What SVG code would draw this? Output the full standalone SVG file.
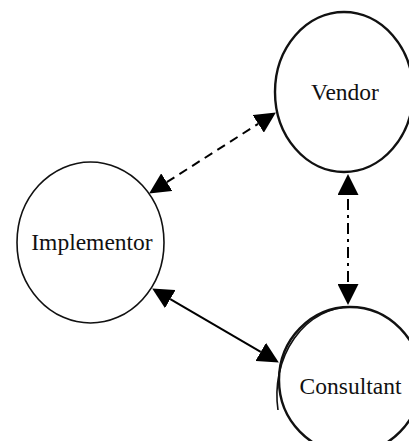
<svg xmlns="http://www.w3.org/2000/svg" width="409" height="441" viewBox="0 0 409 441">
<style>
.node{fill:#fff;stroke:#111;}
.lbl{font-family:"Liberation Serif","Times New Roman",serif;font-size:23.5px;fill:#111;text-anchor:middle;}
.conn{stroke:#000;stroke-width:2;fill:none;marker-start:url(#tri);marker-end:url(#tri);}
</style>
<defs>
<marker id="tri" viewBox="0 0 21 21" refX="0" refY="10.5" markerWidth="21" markerHeight="21" markerUnits="userSpaceOnUse" orient="auto-start-reverse">
<path d="M0,0 L21,10.5 L0,21 Z" fill="#000"/>
</marker>
</defs>
<rect width="409" height="441" fill="#fff"/>
<g id="vendor">
<ellipse class="node" cx="344" cy="92" rx="69" ry="80" stroke-width="2.4"/>
<text class="lbl" x="345" y="100">Vendor</text>
</g>
<g id="implementor">
<ellipse class="node" cx="90.5" cy="242.5" rx="73.5" ry="80.5" stroke-width="1.6"/>
<text class="lbl" x="92" y="250">Implementor</text>
</g>
<g id="consultant">
<ellipse class="node" cx="350" cy="380" rx="71" ry="73" stroke-width="2.4"/>
<path d="M351,307 A74,88 0 0 0 278,410" fill="none" stroke="#111" stroke-width="1.6"/>
<text class="lbl" x="350.5" y="394">Consultant</text>
</g>
<g id="connectors">
<path class="conn" d="M166.8,182.2 L258.2,123.8" stroke-dasharray="9 6"/>
<path class="conn" d="M348,195 L348,284" stroke-dasharray="11 5 3 5" stroke-dashoffset="-4"/>
<path class="conn" d="M170.3,299.1 L260.7,351.9"/>
</g>
</svg>
